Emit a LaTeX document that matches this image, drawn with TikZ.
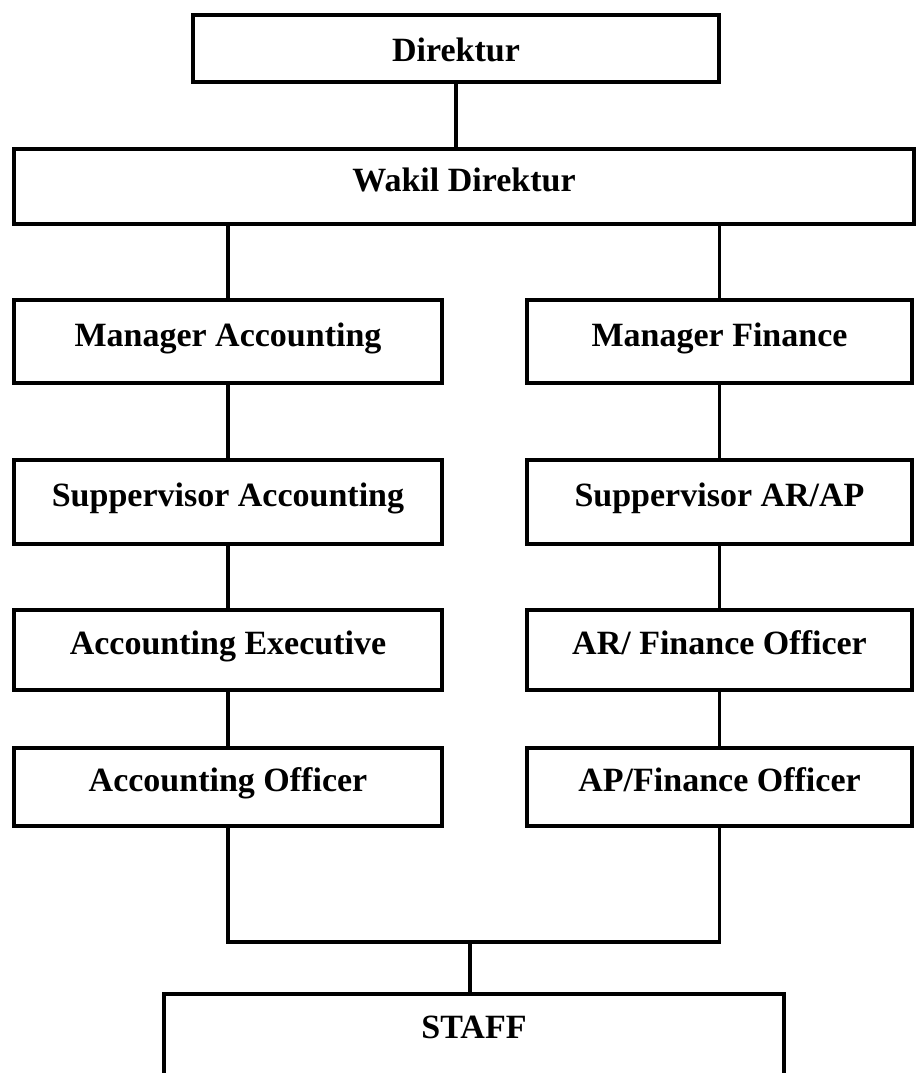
\documentclass[tikz,border=0pt]{standalone}
\usepackage{fontspec}
\setmainfont{Liberation Serif}
\usepackage{tikz}

\begin{document}
\begin{tikzpicture}[x=1pt, y=-1pt,
  every node/.style={font=\bfseries\fontsize{34}{40}\selectfont},
  box/.style={draw, line width=4pt, inner sep=0pt, text height=22pt, text depth=13pt},
  link/.style={line width=3.5pt}]
\useasboundingbox (0,0) rectangle (916,1073);
\clip (0,0) rectangle (916,1073);

\node[box, minimum width=526pt, minimum height=67pt, text height=38pt, text depth=12.5pt] (dir) at (456,48.5) {Direktur};
\node[box, minimum width=900pt, minimum height=75pt] (wakil) at (464,186.5) {Wakil Direktur};

% left column
\node[box, minimum width=428pt, minimum height=83pt] (mgracc) at (228,341.5) {Manager Accounting};
\node[box, minimum width=428pt, minimum height=84pt] (spvacc) at (228,502) {Suppervisor Accounting};
\node[box, minimum width=428pt, minimum height=80pt] (accexec) at (228,650) {Accounting Executive};
\node[box, minimum width=428pt, minimum height=78pt] (accoff) at (228,787) {Accounting Officer};

% right column
\node[box, minimum width=385pt, minimum height=83pt] (mgrfin) at (719.5,341.5) {Manager Finance};
\node[box, minimum width=385pt, minimum height=84pt] (spvarap) at (719.5,502) {Suppervisor AR/AP};
\node[box, minimum width=385pt, minimum height=80pt] (arfin) at (719.5,650) {AR/ Finance Officer};
\node[box, minimum width=385pt, minimum height=78pt] (apfin) at (719.5,787) {AP/Finance Officer};

\node[box, anchor=north, minimum width=620pt, text height=44.5pt, text depth=90pt] (staff) at (474,992) {STAFF};

\coordinate (bus) at (470,942);

\draw[link] (dir.south) -- (dir.south |- wakil.north);
\draw[link] (mgracc.north |- wakil.south) -- (mgracc.north);
\draw[link] (mgrfin.north |- wakil.south) -- (mgrfin.north);
\draw[link] (mgracc) -- (spvacc);
\draw[link] (spvacc) -- (accexec);
\draw[link] (accexec) -- (accoff);
\draw[link] (mgrfin) -- (spvarap);
\draw[link] (spvarap) -- (arfin);
\draw[link] (arfin) -- (apfin);
\draw[link] (accoff.south) -- (accoff.south |- bus) -- (apfin.south |- bus) -- (apfin.south);
\draw[link] (bus) -- (bus |- staff.north);
\end{tikzpicture}
\end{document}
